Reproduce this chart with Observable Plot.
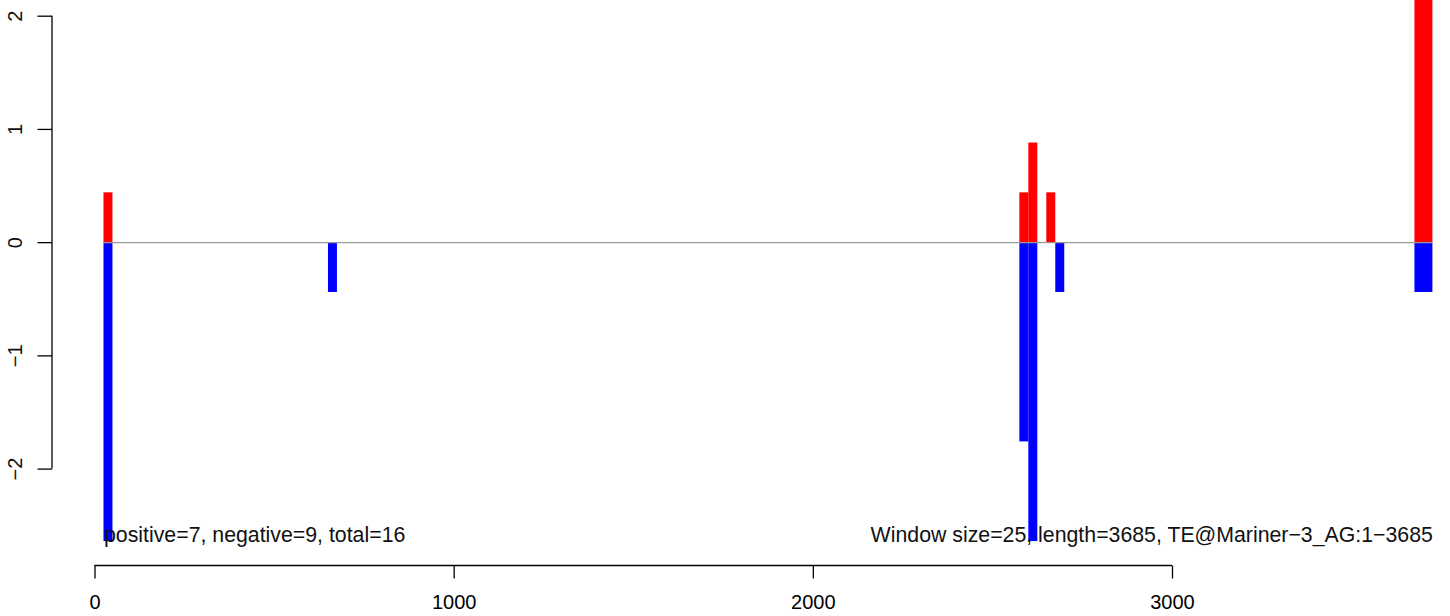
<!DOCTYPE html>
<html><head><meta charset="utf-8">
<script src="https://cdn.jsdelivr.net/npm/d3@7"></script>
<script src="https://cdn.jsdelivr.net/npm/@observablehq/plot@0.6"></script>
<style>body{margin:0;background:#fff;} svg{display:block}</style>
</head><body><div id="chart"></div>
<script>
// Window positions (start/end) and per-window values
const windowStart = [25, 650, 2575, 2600, 2650, 2675, 3675];
const windowEnd = [50, 675, 2600, 2625, 2675, 2700, 3725];
const positiveValues = [0.44, 0, 0.44, 0.88, 0.44, 0, 2.2];
const negativeValues = [-2.64, -0.44, -1.76, -2.64, 0, -0.44, -0.44];
const xTicks = [0, 1000, 2000, 3000];
const yTicks = [-2, -1, 0, 1, 2];
const leftNote = "positive=7, negative=9, total=16";
const rightNote = "Window size=25, length=3685, TE@Mariner\u22123_AG:1\u22123685";

const bars = windowStart.map((s, i) => ({start: s, end: windowEnd[i], pos: positiveValues[i], neg: negativeValues[i]}));
const fmt = d => String(d).replace("-", "\u2212");
const font = "'Liberation Sans', Arial, Helvetica, sans-serif";
const W = 1450, H = 616, mB = 50.5, mL = 52;

const notes = [
  {x: windowStart[0], y: d3.min(negativeValues), label: leftNote, anchor: "start"},
  {x: windowEnd[windowEnd.length - 1], y: d3.min(negativeValues), label: rightNote, anchor: "end"}
];

const chart = Plot.plot({
  width: W, height: H,
  marginTop: 0, marginRight: 0, marginBottom: mB, marginLeft: mL,
  style: {fontFamily: font, background: "white", color: "black"},
  x: {domain: [0, 3000], range: [94.5, 1172]},
  y: {domain: [-2, 2], range: [468.6, 15.7]},
  marks: [
    Plot.rectY(bars.filter(d => d.pos > 0), {x1: "start", x2: "end", y1: () => 0, y2: "pos", fill: "#ff0000"}),
    Plot.rectY(bars.filter(d => d.neg < 0), {x1: "start", x2: "end", y1: () => 0, y2: "neg", fill: "#0000ff"}),
    Plot.ruleY([{x1: windowStart[0], x2: windowEnd[windowEnd.length - 1], y: 0}], {x1: "x1", x2: "x2", y: "y", stroke: "#999999", strokeWidth: 1.2}),
    Plot.text(notes.slice(0, 1), {x: "x", y: "y", text: "label", textAnchor: "start", lineAnchor: "bottom", fontSize: 21.3, fill: "#111"}),
    Plot.text(notes.slice(1), {x: "x", y: "y", text: "label", textAnchor: "end", lineAnchor: "bottom", fontSize: 21.3, fill: "#111"}),
    Plot.axisX({ticks: xTicks, tickSize: 13, tickPadding: 15.5, fontSize: 20, label: null, anchor: "bottom", strokeWidth: 1.3, tickFormat: d => String(d)}),
    Plot.axisY({ticks: yTicks, tickSize: 14.5, tickFormat: () => "", label: null, anchor: "left", strokeWidth: 1.3}),
    Plot.text(yTicks, {y: d => d, text: fmt, frameAnchor: "left", dx: -36.5, rotate: -90, textAnchor: "middle", lineAnchor: "middle", fontSize: 20, fill: "#111"})
  ]
});

const svg = d3.select(chart);
const sx = chart.scale("x"), sy = chart.scale("y");
svg.append("line")
  .attr("x1", sx.apply(xTicks[0])).attr("x2", sx.apply(xTicks[xTicks.length - 1]))
  .attr("y1", H - mB).attr("y2", H - mB)
  .attr("stroke", "black").attr("stroke-width", 1.3);
svg.append("line")
  .attr("x1", mL).attr("x2", mL)
  .attr("y1", sy.apply(yTicks[0])).attr("y2", sy.apply(yTicks[yTicks.length - 1]))
  .attr("stroke", "black").attr("stroke-width", 1.3);

document.getElementById("chart").appendChild(chart);
</script>
</body></html>
